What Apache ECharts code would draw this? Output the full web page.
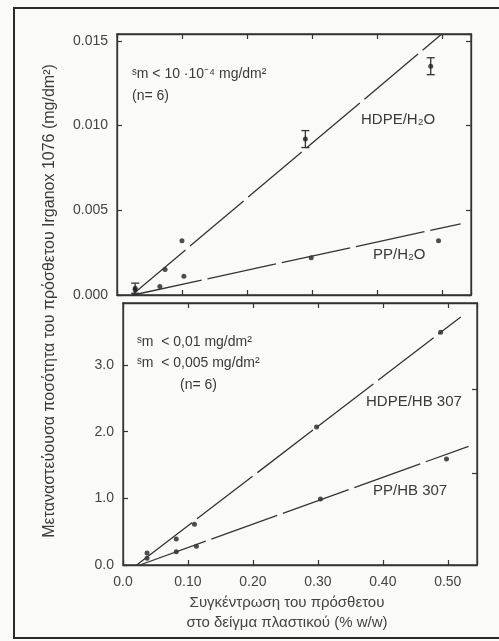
<!DOCTYPE html>
<html>
<head>
<meta charset="utf-8">
<script src="https://cdn.jsdelivr.net/npm/echarts@6/dist/echarts.min.js"></script>
<style>
	html, body { margin: 0; padding: 0; background: #fafaf8; }
	#chart { width: 499px; height: 641px; }
</style>
</head>
<body>
<div id="chart"></div>
<script>
	
	/*
	 * 数据: 上图 (H2O)
	 */
	var hdpeH2oX = [0.028, 0.074, 0.100, 0.290, 0.483];
	var hdpeH2oY = [0.0004, 0.0015, 0.0032, 0.0092, 0.0135];
	var hdpeH2oErr = [0.0003, 0, 0, 0.0005, 0.0005];
	var ppH2oX = [0.028, 0.066, 0.103, 0.299, 0.495];
	var ppH2oY = [0.0003, 0.0005, 0.0011, 0.0022, 0.0032];
	var hdpeH2oFit = [[0.023, 0], [0.500, 0.0154]];
	var ppH2oFit = [[0.025, 0], [0.529, 0.0042]];
	
	/*
	 * 数据: 下图 (HB 307)
	 */
	var hdpeHbX = [0.037, 0.082, 0.110, 0.298, 0.489];
	var hdpeHbY = [0.18, 0.39, 0.61, 2.07, 3.49];
	var ppHbX = [0.037, 0.082, 0.113, 0.304, 0.498];
	var ppHbY = [0.10, 0.20, 0.28, 0.99, 1.59];
	var hdpeHbFit = [[0.021, 0], [0.520, 3.72]];
	var ppHbFit = [[0.026, 0], [0.532, 1.78]];
	
	/*
	 * 刻度
	 */
	var rightTicksHb = [1.38, 2.64];
	
	var ink = "#343434";
	var font = "'Liberation Sans', Arial, sans-serif";
	var dash = [70, 6];
	
	function zip(xs, ys, es) {
		
		var arr = [];
		
		xs.forEach(function(x, i) {
			arr.push(es ? [x, ys[i], es[i]] : [x, ys[i]]);
		});
		
		return arr;
		
	}
	
	function xAxisOf(grid, pos, labels) {
		
		return {
			gridIndex: grid,
			type: "value",
			position: pos,
			min: 0,
			max: 0.545,
			interval: 0.1,
			splitLine: { show: false },
			axisLine: { show: true, onZero: false, lineStyle: { color: ink, width: 1.3 } },
			axisTick: { show: true, inside: true, length: 5, lineStyle: { color: ink, width: 1.2 } },
			axisLabel: {
				show: labels,
				showMaxLabel: false,
				margin: 10,
				color: "#444",
				fontSize: 14,
				fontFamily: font,
				formatter: function(v) {
					return v === 0 ? "0.0" : v.toFixed(2);
				}
			}
		};
		
	}
	
	function yAxisOf(grid, pos, max, interval, digits, labels, ticks) {
		
		var axisTick = { show: true, inside: true, length: 5, lineStyle: { color: ink, width: 1.2 } };
		
		if (ticks) axisTick.customValues = ticks;
		
		return {
			gridIndex: grid,
			type: "value",
			position: pos,
			min: 0,
			max: max,
			interval: interval,
			splitLine: { show: false },
			axisLine: { show: true, onZero: false, lineStyle: { color: ink, width: 1.3 } },
			axisTick: axisTick,
			axisLabel: {
				show: labels,
				showMaxLabel: false,
				margin: 9,
				color: "#444",
				fontSize: 14,
				fontFamily: font,
				formatter: function(v) {
					return v.toFixed(digits);
				}
			}
		};
		
	}
	
	function fitLine(data, xi, yi) {
		
		return {
			type: "line",
			xAxisIndex: xi,
			yAxisIndex: yi,
			data: data,
			symbol: "none",
			silent: true,
			lineStyle: { color: ink, width: 1.3, type: dash }
		};
		
	}
	
	function dots(data, xi, yi) {
		
		return {
			type: "scatter",
			xAxisIndex: xi,
			yAxisIndex: yi,
			data: data,
			symbolSize: 5,
			itemStyle: { color: "#222" }
		};
		
	}
	
	/*
	 * 误差线
	 */
	function errorBars(data, xi, yi) {
		
		return {
			type: "custom",
			xAxisIndex: xi,
			yAxisIndex: yi,
			data: data,
			encode: { x: 0, y: 1 },
			renderItem: function(params, api) {
				
				var x = api.value(0), y = api.value(1), e = api.value(2);
				
				if (!e) return null;
				
				var hi = api.coord([x, y + e]),
					lo = api.coord([x, y - e]),
					w = 4,
					st = { stroke: ink, lineWidth: 1.3 };
				
				return {
					type: "group",
					children: [{
						type: "line",
						shape: { x1: hi[0], y1: hi[1], x2: lo[0], y2: lo[1] },
						style: st
					}, {
						type: "line",
						shape: { x1: hi[0] - w, y1: hi[1], x2: hi[0] + w, y2: hi[1] },
						style: st
					}, {
						type: "line",
						shape: { x1: lo[0] - w, y1: lo[1], x2: lo[0] + w, y2: lo[1] },
						style: st
					}]
				};
				
			}
		};
		
	}
	
	function note(text, x, y, size) {
		
		return {
			type: "text",
			left: x,
			top: y - 8,
			style: {
				text: text,
				fill: "#3a3a3a",
				font: (size || 14) + "px " + font
			}
		};
		
	}
	
	var chart = echarts.init(document.getElementById("chart"));
	
	chart.setOption({
		backgroundColor: "#fafaf8",
		animation: false,
		grid: [{
			left: 117,
			top: 34,
			width: 354,
			height: 261,
			show: true,
			borderColor: ink,
			borderWidth: 1.3
		}, {
			left: 123,
			top: 303,
			width: 354,
			height: 262,
			show: true,
			borderColor: ink,
			borderWidth: 1.3
		}],
		xAxis: [
			xAxisOf(0, "bottom", false),
			xAxisOf(0, "top", false),
			xAxisOf(1, "bottom", true),
			xAxisOf(1, "top", false)
		],
		yAxis: [
			yAxisOf(0, "left", 0.0154, 0.005, 3, true),
			yAxisOf(0, "right", 0.0154, 0.005, 3, false),
			yAxisOf(1, "left", 3.93, 1, 1, true),
			yAxisOf(1, "right", 3.93, 1, 1, false, rightTicksHb)
		],
		series: [
			fitLine(hdpeH2oFit, 0, 0),
			fitLine(ppH2oFit, 0, 0),
			dots(zip(hdpeH2oX, hdpeH2oY), 0, 0),
			dots(zip(ppH2oX, ppH2oY), 0, 0),
			errorBars(zip(hdpeH2oX, hdpeH2oY, hdpeH2oErr), 0, 0),
			fitLine(hdpeHbFit, 2, 2),
			fitLine(ppHbFit, 2, 2),
			dots(zip(hdpeHbX, hdpeHbY), 2, 2),
			dots(zip(ppHbX, ppHbY), 2, 2)
		],
		graphic: [{
			type: "rect",
			shape: { x: 14, y: 8, width: 520, height: 630 },
			style: { fill: "none", stroke: "#2a2a2a", lineWidth: 2 }
		}, {
			type: "text",
			x: 50,
			y: 301,
			rotation: Math.PI / 2,
			style: {
				text: "Μεταναστεύουσα ποσότητα του πρόσθετου Irganox 1076 (mg/dm²)",
				fill: "#3a3a3a",
				font: "16px " + font,
				align: "center",
				verticalAlign: "middle"
			}
		}, {
			type: "text",
			x: 287,
			y: 603,
			style: {
				text: "Συγκέντρωση του πρόσθετου",
				fill: "#444",
				font: "15px " + font,
				align: "center",
				verticalAlign: "middle"
			}
		}, {
			type: "text",
			x: 287,
			y: 623,
			style: {
				text: "στο δείγμα πλαστικού (% w/w)",
				fill: "#444",
				font: "15px " + font,
				align: "center",
				verticalAlign: "middle"
			}
		},
			note("ˢm < 10 ·10⁻⁴ mg/dm²", 132, 75),
			note("(n= 6)", 132, 97),
			note("HDPE/H₂O", 361, 120, 15),
			note("PP/H₂O", 373, 255, 15),
			note("ˢm  < 0,01 mg/dm²", 137, 343),
			note("ˢm  < 0,005 mg/dm²", 137, 364),
			note("(n= 6)", 180, 386),
			note("HDPE/HB 307", 366, 402, 15),
			note("PP/HB 307", 373, 491, 15)
		]
	});
	
</script>
</body>
</html>
